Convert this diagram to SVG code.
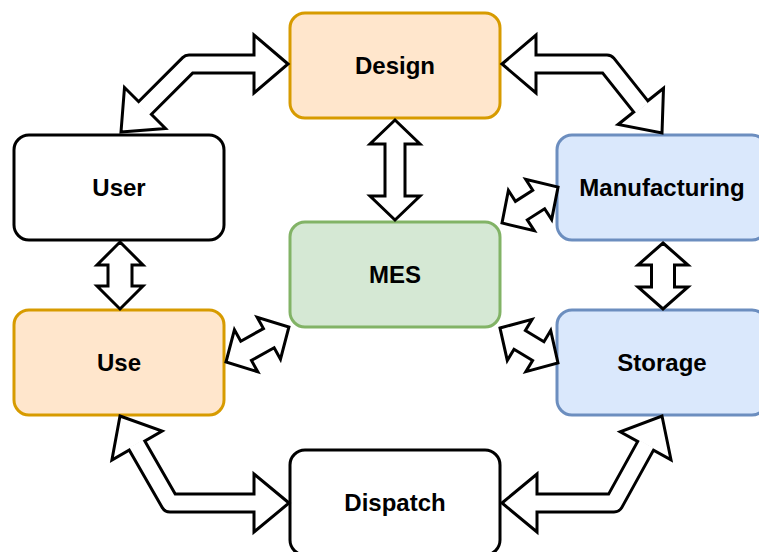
<svg xmlns="http://www.w3.org/2000/svg" width="759" height="552" viewBox="0 0 759 552">
  <style>
    .box { stroke-width: 3; }
    .orange { fill: #ffe6cc; stroke: #d79b00; }
    .blue { fill: #dae8fc; stroke: #6c8ebf; }
    .green { fill: #d5e8d4; stroke: #82b366; }
    .plain { fill: #ffffff; stroke: #000000; }
    .label { font-family: "Liberation Sans", Arial, sans-serif; font-size: 24px; font-weight: bold; fill: #000; text-anchor: middle; }
    .arrow { fill: #ffffff; stroke: #000000; stroke-width: 3; stroke-linejoin: miter; }
    .body-out { fill: none; stroke: #000000; stroke-width: 21; stroke-linejoin: round; }
    .body-in { fill: none; stroke: #ffffff; stroke-width: 15; stroke-linejoin: round; }
  </style>

  <!-- nodes -->
  <g id="design">
    <rect class="box orange" x="290" y="13" width="210" height="105" rx="15"/>
    <text class="label" x="395" y="74">Design</text>
  </g>
  <g id="user">
    <rect class="box plain" x="14" y="135" width="210" height="105" rx="15"/>
    <text class="label" x="119" y="196">User</text>
  </g>
  <g id="manufacturing">
    <rect class="box blue" x="557" y="135" width="210" height="105" rx="15"/>
    <text class="label" x="662" y="196">Manufacturing</text>
  </g>
  <g id="mes">
    <rect class="box green" x="290" y="222" width="210" height="105" rx="15"/>
    <text class="label" x="395" y="283">MES</text>
  </g>
  <g id="use">
    <rect class="box orange" x="14" y="310" width="210" height="105" rx="15"/>
    <text class="label" x="119" y="371">Use</text>
  </g>
  <g id="storage">
    <rect class="box blue" x="557" y="310" width="210" height="105" rx="15"/>
    <text class="label" x="662" y="371">Storage</text>
  </g>
  <g id="dispatch">
    <rect class="box plain" x="290" y="450" width="210" height="105" rx="15"/>
    <text class="label" x="395" y="511">Dispatch</text>
  </g>

  <!-- connectors: double-headed block arrows -->
  <g id="connectors">
    <!-- User <-> Design (bent) -->
    <g id="user-design">
      <path class="body-out" d="M256 64 L189 64 L143.6 109.4"/>
      <polygon class="arrow" points="288,64 254,35 254,93"/>
      <polygon class="arrow" points="121,132 165.5,128.5 124.5,87.5"/>
      <path class="body-in" d="M256 64 L189 64 L143.6 109.4"/>
    </g>
    <!-- Design <-> Manufacturing (bent) -->
    <g id="design-manufacturing">
      <path class="body-out" d="M534 64 L607 64 L642 108"/>
      <polygon class="arrow" points="502,64 536,35 536,93"/>
      <polygon class="arrow" points="662,133 663.5,88.3 618.1,124.5"/>
      <path class="body-in" d="M534 64 L607 64 L642 108"/>
    </g>
    <!-- Use <-> Dispatch (bent) -->
    <g id="use-dispatch">
      <path class="body-out" d="M256 503 L170 503 L136 443.8"/>
      <polygon class="arrow" points="289,503 254,474 254,532"/>
      <polygon class="arrow" points="120,416 162.1,431 111.9,460"/>
      <path class="body-in" d="M256 503 L170 503 L136 443.8"/>
    </g>
    <!-- Storage <-> Dispatch (bent) -->
    <g id="storage-dispatch">
      <path class="body-out" d="M535 503 L614 503 L646.6 444"/>
      <polygon class="arrow" points="502,503 537,474 537,532"/>
      <polygon class="arrow" points="662,416 671,459.8 620.2,431.8"/>
      <path class="body-in" d="M535 503 L614 503 L646.6 444"/>
    </g>

    <!-- Design <-> MES -->
    <polygon class="arrow" transform="translate(395,120) rotate(90)"
      points="0,0 24,-25 24,-10 76,-10 76,-25 100,0 76,25 76,10 24,10 24,25"/>
    <!-- User <-> Use -->
    <polygon class="arrow" transform="translate(120,242) rotate(90)"
      points="0,0 23,-23 23,-12 44,-12 44,-23 67,0 44,23 44,12 23,12 23,23"/>
    <!-- Manufacturing <-> Storage -->
    <polygon class="arrow" transform="translate(663,243) rotate(90)"
      points="0,0 22,-25 22,-11.5 44,-11.5 44,-25 66,0 44,25 44,11.5 22,11.5 22,25"/>
    <!-- MES <-> Manufacturing -->
    <polygon class="arrow" transform="translate(502,223) rotate(-32.7)"
      points="0,0 23,-24 23,-11 43.6,-11 43.6,-24 66.6,0 43.6,24 43.6,11 23,11 23,24"/>
    <!-- Use <-> MES -->
    <polygon class="arrow" transform="translate(226,362) rotate(-29.1)"
      points="0,0 23,-24 23,-11 49,-11 49,-24 72,0 49,24 49,11 23,11 23,24"/>
    <!-- MES <-> Storage -->
    <polygon class="arrow" transform="translate(500,328) rotate(31.1)"
      points="0,0 23,-24 23,-11 44.7,-11 44.7,-24 67.7,0 44.7,24 44.7,11 23,11 23,24"/>
  </g>
</svg>
